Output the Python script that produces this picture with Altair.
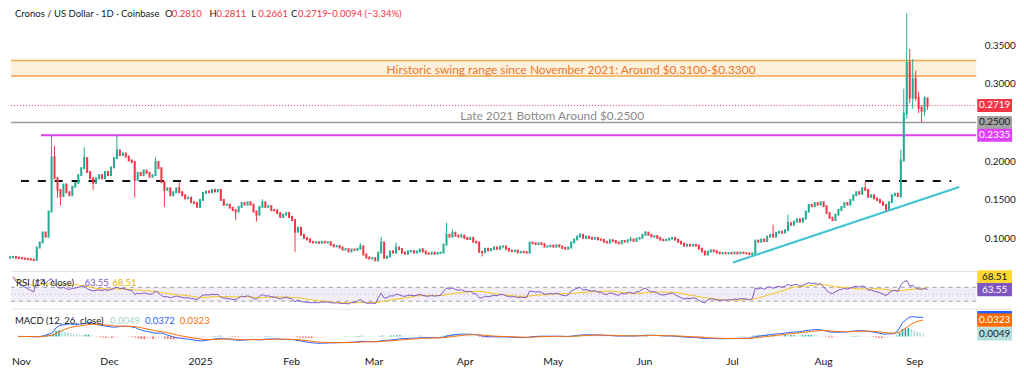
import altair as alt
import numpy as np
import pandas as pd

# ---------------- data ----------------
START_DATE = "2024-10-30"
FIRST_OPEN = 0.0755
CLOSES = [
    0.0760, 0.0765, 0.0755, 0.0750, 0.0745, 0.0740, 0.0735, 0.0730, 0.0725, 0.0885,
    0.0950, 0.1080, 0.1026, 0.1350, 0.2050, 0.1780, 0.1630, 0.1550, 0.1700, 0.1600,
    0.1560, 0.1670, 0.1720, 0.1820, 0.1910, 0.2040, 0.1860, 0.1780, 0.1720, 0.1780,
    0.1820, 0.1780, 0.1860, 0.1820, 0.1920, 0.2040, 0.2140, 0.2080, 0.2100, 0.2060,
    0.2010, 0.1990, 0.1760, 0.1850, 0.1820, 0.1880, 0.1850, 0.1800, 0.1820, 0.1990,
    0.1910, 0.1730, 0.1630, 0.1650, 0.1560, 0.1600, 0.1650, 0.1600, 0.1560, 0.1520,
    0.1530, 0.1470, 0.1460, 0.1410, 0.1500, 0.1590, 0.1610, 0.1600, 0.1630, 0.1610,
    0.1630, 0.1500, 0.1436, 0.1440, 0.1400, 0.1370, 0.1350, 0.1410, 0.1460, 0.1440,
    0.1470, 0.1440, 0.1350, 0.1310, 0.1410, 0.1470, 0.1410, 0.1420, 0.1370, 0.1365,
    0.1330, 0.1280, 0.1310, 0.1330, 0.1280, 0.1240, 0.1090, 0.1140, 0.1050, 0.1010,
    0.0990, 0.0960, 0.0950, 0.0955, 0.0945, 0.0960, 0.0950, 0.0955, 0.0920, 0.0900,
    0.0905, 0.0885, 0.0860, 0.0865, 0.0835, 0.0860, 0.0855, 0.0870, 0.0900, 0.0795,
    0.0756, 0.0744, 0.0748, 0.0720, 0.0820, 0.0950, 0.0753, 0.0770, 0.0835, 0.0820,
    0.0885, 0.0865, 0.0820, 0.0805, 0.0835, 0.0840, 0.0820, 0.0835, 0.0860, 0.0835,
    0.0810, 0.0805, 0.0820, 0.0805, 0.0815, 0.0820, 0.0923, 0.1050, 0.1026, 0.1077,
    0.1040, 0.1026, 0.1040, 0.1010, 0.0995, 0.1010, 0.0960, 0.0950, 0.0830, 0.0825,
    0.0870, 0.0850, 0.0865, 0.0885, 0.0870, 0.0897, 0.0900, 0.0870, 0.0846, 0.0840,
    0.0845, 0.0823, 0.0830, 0.0825, 0.0820, 0.0950, 0.0940, 0.0930, 0.0940, 0.0930,
    0.0897, 0.0900, 0.0910, 0.0897, 0.0915, 0.0900, 0.0880, 0.0870, 0.0885, 0.0950,
    0.0990, 0.1026, 0.1050, 0.1010, 0.1026, 0.1010, 0.1000, 0.1010, 0.0990, 0.0985,
    0.0960, 0.0950, 0.0980, 0.0970, 0.0950, 0.0940, 0.0970, 0.0960, 0.0980, 0.0990,
    0.0970, 0.1000, 0.1010, 0.1050, 0.1077, 0.1050, 0.1026, 0.1035, 0.1010, 0.0987,
    0.0980, 0.0987, 0.1000, 0.1010, 0.0987, 0.0960, 0.0936, 0.0910, 0.0920, 0.0910,
    0.0920, 0.0910, 0.0870, 0.0833, 0.0795, 0.0833, 0.0850, 0.0840, 0.0820, 0.0810,
    0.0815, 0.0810, 0.0815, 0.0810, 0.0820, 0.0810, 0.0820, 0.0815, 0.0810, 0.0800,
    0.0810, 0.0975, 0.0960, 0.0990, 0.0970, 0.1026, 0.1050, 0.1026, 0.1077, 0.1090,
    0.1080, 0.1110, 0.1200, 0.1180, 0.1220, 0.1250, 0.1220, 0.1260, 0.1350, 0.1436,
    0.1420, 0.1460, 0.1440, 0.1470, 0.1420, 0.1330, 0.1270, 0.1240, 0.1310, 0.1370,
    0.1410, 0.1460, 0.1440, 0.1500, 0.1560, 0.1600, 0.1580, 0.1650, 0.1630, 0.1540,
    0.1560, 0.1520, 0.1500, 0.1470, 0.1436, 0.1385, 0.1470, 0.1560, 0.1580, 0.1550,
    0.2010, 0.2615, 0.3270, 0.2820, 0.3060, 0.2820, 0.2690, 0.2650, 0.2810, 0.2719,
]
HIGH_WICKS = {14: 0.2335, 15: 0.2200, 25: 0.2180, 36: 0.2335, 49: 0.2050, 57: 0.1730,
              85: 0.1510, 118: 0.0940, 125: 0.1026, 130: 0.0950, 139: 0.0880, 147: 0.1205,
              149: 0.1120, 152: 0.1070, 192: 0.1070, 209: 0.1030, 214: 0.1100, 257: 0.1180,
              262: 0.1310, 288: 0.1730, 300: 0.2150, 301: 0.2936, 302: 0.3910, 303: 0.3450,
              304: 0.3320, 305: 0.3170, 306: 0.2900, 307: 0.2720, 308: 0.2840, 309: 0.2811}
LOW_WICKS = {16: 0.1526, 17: 0.1430, 28: 0.1630, 42: 0.1530, 52: 0.1410, 76: 0.1240,
             83: 0.1220, 96: 0.0830, 159: 0.0770, 295: 0.1350, 300: 0.1530, 301: 0.2000,
             302: 0.2550, 303: 0.2750, 304: 0.2680, 305: 0.2780, 306: 0.2620, 307: 0.2500,
             308: 0.2580, 309: 0.2661}

TITLE = "Cronos / US Dollar · 1D · Coinbase"
OHLC_KEYS = ["O", "H", "L", "C"]
OHLC_VALUES = ["0.2810", "0.2811", "0.2661", "0.2719"]
CHANGE_TEXT = "−0.0094 (−3.34%)"

PRICE_TICKS = [0.10, 0.15, 0.20, 0.30, 0.35]
SWING_RANGE = [0.3100, 0.3300]
SWING_TEXT = "Hirstoric swing range since November 2021: Around $0.3100-$0.3300"
SWING_TEXT_Y = 0.318
LATE_BOTTOM = 0.2500
LATE_TEXT = "Late 2021 Bottom Around $0.2500"
LATE_TEXT_Y = 0.2577
MAGENTA_LEVEL = 0.2335
MAGENTA_START = "2024-11-09T10:00:00Z"
LAST_PRICE = 0.2719
DASHED_LEVEL = 0.1745
DASHED_SPAN = ["2024-11-02T17:00:00Z", "2025-09-12T00:00:00Z"]
TREND_DATES = ["2025-06-30T12:00:00Z", "2025-09-14T16:00:00Z"]
TREND_VALUES = [0.0692, 0.1667]

RSI_TITLE = "RSI (14, close)"
RSI_VALUES = ["63.55", "68.51"]
MACD_TITLE = "MACD (12, 26, close)"
MACD_VALUES = ["0.0049", "0.0372", "0.0323"]
TICK_MONTHS = [(2024, 11), (2024, 12), (2025, 1), (2025, 2), (2025, 3), (2025, 4),
               (2025, 5), (2025, 6), (2025, 7), (2025, 8), (2025, 9)]

# ---------------- tables ----------------
n = len(CLOSES)
dates = pd.date_range(START_DATE, periods=n, freq="D").strftime("%Y-%m-%d")
opens = [FIRST_OPEN] + CLOSES[:-1]
highs = [max(o, c, HIGH_WICKS.get(i, 0.0)) for i, (o, c) in enumerate(zip(opens, CLOSES))]
lows = [min(o, c, LOW_WICKS.get(i, 1.0)) for i, (o, c) in enumerate(zip(opens, CLOSES))]
candles = pd.DataFrame({"date": dates, "open": opens, "high": highs, "low": lows, "close": CLOSES})
candles["dir"] = np.where(candles["close"] >= candles["open"], "up", "down")

s = pd.Series(CLOSES)
delta = s.diff()
gain = delta.clip(lower=0)
loss = -delta.clip(upper=0)
ag = gain.ewm(alpha=1 / 14, adjust=False).mean()
al = loss.ewm(alpha=1 / 14, adjust=False).mean()
rsi = 100 - 100 / (1 + ag / al)
rsima = rsi.rolling(14, min_periods=1).mean()
ema12 = s.ewm(span=12, adjust=False).mean()
ema26 = s.ewm(span=26, adjust=False).mean()
macd = ema12 - ema26
signal = macd.ewm(span=9, adjust=False).mean()
hist = macd - signal
prev = hist.shift(1).fillna(0)
hcol = np.where(hist >= 0, np.where(hist >= prev, "#26a69a", "#b2dfdb"),
                np.where(hist < prev, "#ff5252", "#ffcdd2"))
ind = pd.DataFrame({"date": dates, "rsi": rsi, "rsima": rsima, "macd": macd,
                    "signal": signal, "hist": hist, "hcol": hcol, "zero": 0.0}).iloc[1:]

# ---------------- styling ----------------
FONT = "Lato"
W = 972
H_PRICE, H_RSI, H_MACD = 264, 38, 35
UP, DOWN = "#22ab94", "#f23645"
TXT = "#131722"
HFS = 9.6  # header font size

x_scale = alt.Scale(type="utc", domain=[
    alt.DateTime(year=2024, month=10, date=30, hours=8, utc=True),
    alt.DateTime(year=2025, month=9, date=20, hours=10, utc=True)])


def xT(f, axis=None):
    return alt.X(f, type="temporal", scale=x_scale, axis=axis)


price_scale = alt.Scale(domain=[0.0577, 0.3962], nice=False, zero=False)
price_axis = alt.Axis(orient="right", values=PRICE_TICKS, format=".4f", domain=False,
                      ticks=False, grid=False, labelPadding=8, labelFont=FONT,
                      labelFontSize=10, labelColor=TXT, title=None)


def yP(f):
    return alt.Y(f, type="quantitative", scale=price_scale, axis=price_axis)


rsi_scale = alt.Scale(domain=[7.1, 115.7], nice=False, zero=False)
macd_scale = alt.Scale(domain=[-0.0147, 0.0538], nice=False, zero=False)


def yR(f):
    return alt.Y(f, type="quantitative", scale=rsi_scale, axis=None)


def yM(f):
    return alt.Y(f, type="quantitative", scale=macd_scale, axis=None)


one = pd.DataFrame({"k": [0]})
BOX = "M-1,-0.38H1V0.38H-1Z"


def tag(yfn, value, text, fill, color, yoff=0, show_text=True):
    d = pd.DataFrame({"v": [value], "t": [text]})
    b = alt.Chart(d).mark_point(shape=BOX, filled=True, size=1225, opacity=1, color=fill,
                                strokeWidth=0, yOffset=yoff).encode(x=alt.value(990.5), y=yfn("v"))
    if not show_text:
        return b
    t = alt.Chart(d).mark_text(font=FONT, fontSize=10, color=color, align="center",
                               baseline="middle", yOffset=yoff).encode(
        x=alt.value(990.5), y=yfn("v"), text="t:N")
    return b + t


def label(text, x, y, color, size=HFS):
    return alt.Chart(one).mark_text(text=text, font=FONT, fontSize=size, color=color,
                                    align="left", baseline="middle").encode(
        x=alt.value(x), y=alt.value(y))


col = alt.Color("dir:N", scale=alt.Scale(domain=["up", "down"], range=[UP, DOWN]), legend=None)

# ---------------- price panel ----------------
band = alt.Chart(pd.DataFrame({"y": [SWING_RANGE[0]], "y2": [SWING_RANGE[1]]})).mark_rect(
    color="#ff9800", opacity=0.14).encode(x=alt.value(0), x2=alt.value(W), y=yP("y"), y2="y2")
band_lines = alt.Chart(pd.DataFrame({"v": SWING_RANGE})).mark_rule(
    color="#f3a64f", strokeWidth=1.5).encode(x=alt.value(0), x2=alt.value(W), y=yP("v"))
swing_txt = alt.Chart(pd.DataFrame({"v": [SWING_TEXT_Y], "t": [SWING_TEXT]})).mark_text(
    font=FONT, fontSize=12, color="#ea772b", align="center", baseline="middle").encode(
    x=alt.value(564), y=yP("v"), text="t:N")
gray_line = alt.Chart(pd.DataFrame({"v": [LATE_BOTTOM]})).mark_rule(
    color="#9b9b9b", strokeWidth=1.5).encode(x=alt.value(0), x2=alt.value(W), y=yP("v"))
late_txt = alt.Chart(pd.DataFrame({"v": [LATE_TEXT_Y], "t": [LATE_TEXT]})).mark_text(
    font=FONT, fontSize=12, color="#8a8a8a", align="center", baseline="middle").encode(
    x=alt.value(545), y=yP("v"), text="t:N")
mag_line = alt.Chart(pd.DataFrame({"d1": [MAGENTA_START], "v": [MAGENTA_LEVEL]})).mark_rule(
    color="#dc3fe8", strokeWidth=2).encode(x=xT("d1"), x2=alt.value(W), y=yP("v"))
last_line = alt.Chart(pd.DataFrame({"v": [LAST_PRICE]})).mark_rule(
    color="#f23645", strokeWidth=1, strokeDash=[1, 2]).encode(
    x=alt.value(0), x2=alt.value(W), y=yP("v"))
dash_line = alt.Chart(pd.DataFrame({"d1": [DASHED_SPAN[0]], "d2": [DASHED_SPAN[1]],
                                    "v": [DASHED_LEVEL]})).mark_rule(
    color="#111111", strokeWidth=2, strokeDash=[8, 9]).encode(x=xT("d1"), x2="d2", y=yP("v"))
trend = alt.Chart(pd.DataFrame({"d1": [TREND_DATES[0]], "d2": [TREND_DATES[1]],
                                "v1": [TREND_VALUES[0]], "v2": [TREND_VALUES[1]]})).mark_rule(
    color="#3fc3d2", strokeWidth=2).encode(x=xT("d1"), x2="d2", y=yP("v1"), y2="v2")

wicks = alt.Chart(candles).mark_rule(strokeWidth=1).encode(
    x=xT("date"), y=yP("low"), y2="high", color=col)
bodies = alt.Chart(candles).mark_rule(strokeWidth=2, strokeCap="square").encode(
    x=xT("date"), y=yP("open"), y2="close", color=col)

header = [label(TITLE, 4, 5, TXT)]
ohlc_x = [155, 200, 242, 282]
for k, v, xx in zip(OHLC_KEYS, OHLC_VALUES, ohlc_x):
    header.append(label(k, xx, 5, TXT))
    header.append(label(v, xx + 7, 5, "#f23645"))
header.append(label(CHANGE_TEXT, 318, 5, "#f23645"))

sep1 = alt.Chart(one).mark_rule(color="#e0e3eb", strokeWidth=1).encode(
    x=alt.value(0), x2=alt.value(1008), y=alt.value(H_PRICE))

price = alt.layer(
    band, band_lines, gray_line, mag_line, last_line, dash_line, trend,
    wicks, bodies, swing_txt, late_txt,
    tag(yP, LAST_PRICE, "0.2719", "#f23645", "white"),
    tag(yP, LATE_BOTTOM, "0.2500", "#a3a3a3", TXT),
    tag(yP, MAGENTA_LEVEL, "0.2335", "#e040fb", "white"),
    *header, sep1,
).properties(width=W, height=H_PRICE)

# ---------------- RSI panel ----------------
rsi_band = alt.Chart(one).mark_rect(color="#7e57c2", opacity=0.1).encode(
    x=alt.value(0), x2=alt.value(W), y=alt.Y("a:Q", scale=rsi_scale, axis=None), y2="b:Q"
).transform_calculate(a="70", b="30")
rsi_lines = alt.Chart(pd.DataFrame({"v": [70, 30]})).mark_rule(
    color="#787b86", strokeWidth=1, strokeDash=[4, 4], opacity=0.7).encode(
    x=alt.value(0), x2=alt.value(W), y=yR("v"))
rsi_mid = alt.Chart(pd.DataFrame({"v": [50]})).mark_rule(
    color="#787b86", strokeWidth=1, strokeDash=[1, 3], opacity=0.5).encode(
    x=alt.value(0), x2=alt.value(W), y=yR("v"))
rsi_line = alt.Chart(ind).mark_line(color="#7e57c2", strokeWidth=1).encode(x=xT("date"), y=yR("rsi"))
rsi_ma = alt.Chart(ind).mark_line(color="#f5c518", strokeWidth=1).encode(x=xT("date"), y=yR("rsima"))
sep2 = alt.Chart(one).mark_rule(color="#e0e3eb", strokeWidth=1).encode(
    x=alt.value(0), x2=alt.value(1008), y=alt.value(H_RSI))

rsi_panel = alt.layer(
    rsi_band, rsi_lines, rsi_mid, rsi_ma, rsi_line,
    label(RSI_TITLE, 5, 12, TXT), label(RSI_VALUES[0], 74, 12, "#7e57c2"),
    label(RSI_VALUES[1], 102, 12, "#e0b400"),
    tag(yR, 68.51, RSI_VALUES[1], "#fdd835", TXT, yoff=-11),
    tag(yR, 63.55, RSI_VALUES[0], "#7e57c2", "white"),
    sep2,
).properties(width=W, height=H_RSI)

# ---------------- MACD panel ----------------
x_axis = alt.Axis(values=[alt.DateTime(year=y, month=m, date=1, utc=True) for y, m in TICK_MONTHS],
                  labelExpr="utcFormat(datum.value, '%m') == '01' ? utcFormat(datum.value, '%Y') : utcFormat(datum.value, '%b')",
                  domain=False, ticks=False, grid=False, labelPadding=13, labelFont=FONT,
                  labelFontSize=10.5, labelColor=TXT, title=None, labelFlush=False)
hist_bars = alt.Chart(ind).mark_bar(size=1.6).encode(
    x=xT("date", x_axis), y=yM("hist"), y2="zero", color=alt.Color("hcol:N", scale=None))
macd_line = alt.Chart(ind).mark_line(color="#2962ff", strokeWidth=1).encode(
    x=xT("date", x_axis), y=yM("macd"))
sig_line = alt.Chart(ind).mark_line(color="#ff6d00", strokeWidth=1).encode(
    x=xT("date", x_axis), y=yM("signal"))

macd_panel = alt.layer(
    hist_bars, macd_line, sig_line,
    label(MACD_TITLE, 4, 12, TXT), label(MACD_VALUES[0], 100, 12, "#9fd3cc"),
    label(MACD_VALUES[1], 135, 12, "#2962ff"), label(MACD_VALUES[2], 170, 12, "#ff6d00"),
    tag(yM, 0.0372, MACD_VALUES[1], "#2962ff", "white", show_text=False),
    tag(yM, 0.0323, MACD_VALUES[2], "#ff6d00", "white"),
    tag(yM, 0.0049, MACD_VALUES[0], "#b2dfdb", TXT),
).properties(width=W, height=H_MACD)

chart = alt.vconcat(price, rsi_panel, macd_panel, spacing=0, bounds="flush").properties(
    padding=0, background="white").configure_view(stroke=None)

chart.save("out.html", embed_options={"renderer": "svg", "actions": False})
